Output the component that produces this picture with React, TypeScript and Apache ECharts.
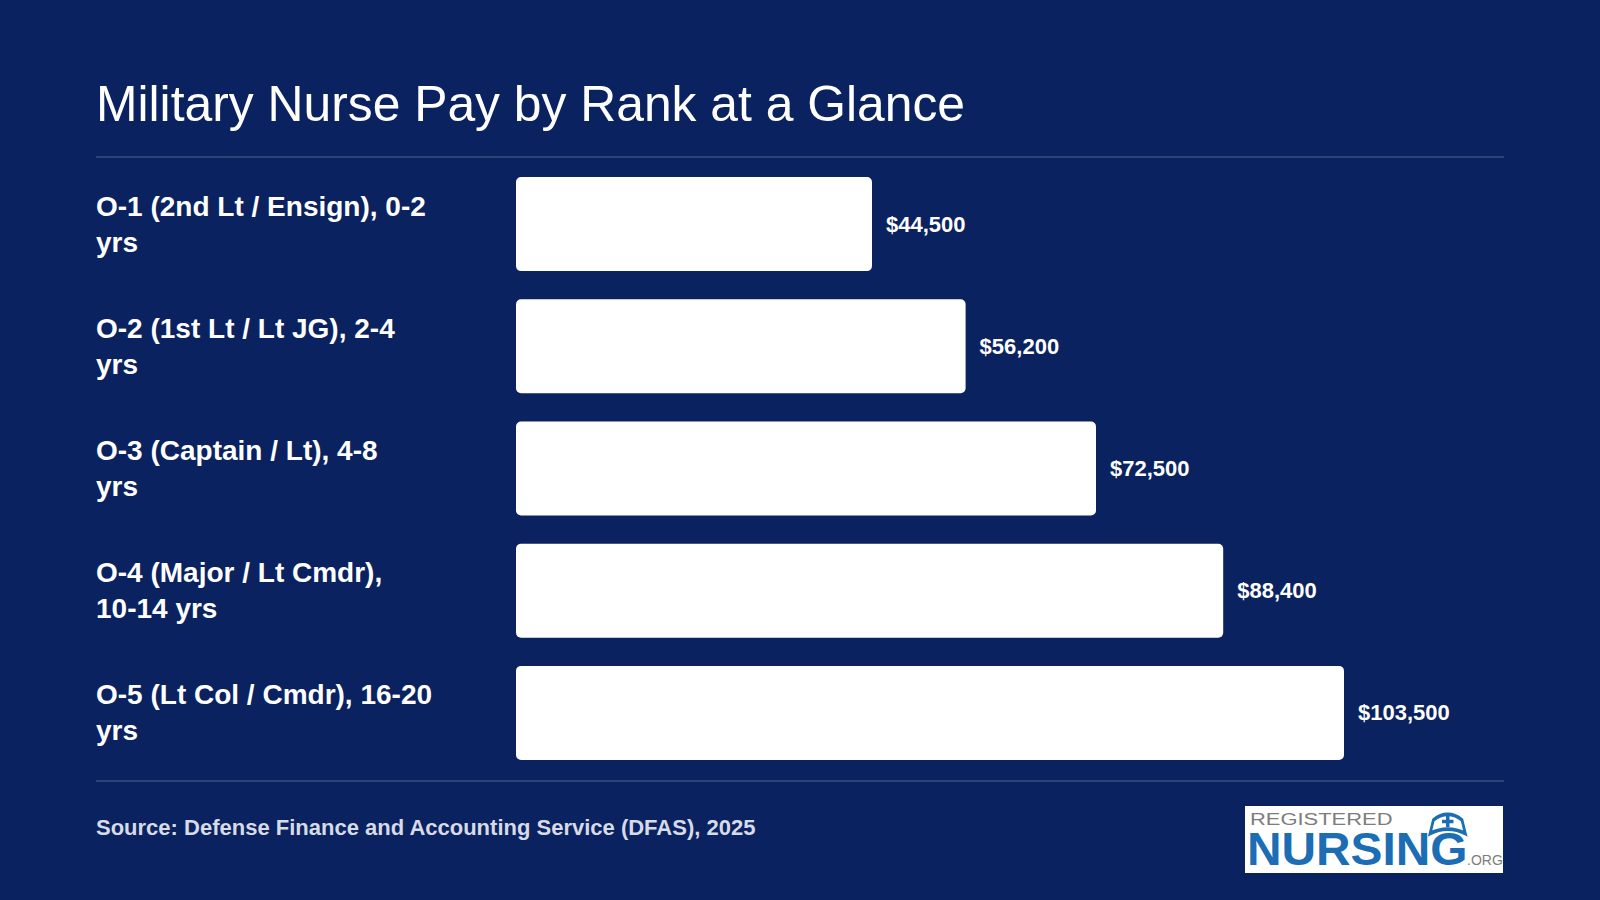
import React, { useEffect, useRef } from "react";
import * as echarts from "echarts";

const TITLE = "Military Nurse Pay by Rank at a Glance";
const SOURCE = "Source: Defense Finance and Accounting Service (DFAS), 2025";

const categories = [
  "O-1 (2nd Lt / Ensign), 0-2\nyrs",
  "O-2 (1st Lt / Lt JG), 2-4\nyrs",
  "O-3 (Captain / Lt), 4-8\nyrs",
  "O-4 (Major / Lt Cmdr),\n10-14 yrs",
  "O-5 (Lt Col / Cmdr), 16-20\nyrs",
];
const payValues = [44500, 56200, 72500, 88400, 103500];

const BG = "#0b2260";
const FONT = "'Liberation Sans', Arial, Helvetica, sans-serif";
const LOGO_BLUE = "#1b6db4";
const LOGO_GRAY = "#7d7d7d";

const CAP_PATH =
  "M1,13 L4,4 C12,-1 22,-1 30,4 L33,13 C23,9 11,9 1,13 Z";

export default function App() {
  const ref = useRef<HTMLDivElement>(null);

  useEffect(() => {
    if (!ref.current) return;
    try {
      echarts.graphic.registerShape(
        "nursecap",
        echarts.graphic.extendPath(CAP_PATH, {}) as any
      );
    } catch (e) {}
    const chart = echarts.init(ref.current, null, { renderer: "svg" });
    chart.setOption({
      animation: false,
      backgroundColor: BG,
      grid: { left: 516, top: 163, width: 988, height: 611, containLabel: false },
      xAxis: { type: "value", min: 0, max: 123500, show: false },
      yAxis: {
        type: "category",
        data: categories,
        inverse: true,
        axisLine: { show: false },
        axisTick: { show: false },
        splitLine: { show: false },
        axisLabel: {
          color: "#ffffff",
          fontFamily: FONT,
          fontWeight: "bold",
          fontSize: 28,
          lineHeight: 36,
          align: "left",
          margin: 420,
        },
      },
      series: [
        {
          type: "bar",
          data: payValues,
          barWidth: 94,
          itemStyle: { color: "#ffffff", borderRadius: 5 },
          label: {
            show: true,
            position: "right",
            distance: 14,
            color: "#ffffff",
            fontFamily: FONT,
            fontWeight: "bold",
            fontSize: 22,
            formatter: (p: any) => "$" + Number(p.value).toLocaleString("en-US"),
          },
        },
      ],
      graphic: [
        {
          type: "text",
          x: 96,
          y: 104,
          style: {
            text: TITLE,
            fill: "#ffffff",
            font: `49.8px ${FONT}`,
            verticalAlign: "middle",
          },
        },
        {
          type: "line",
          shape: { x1: 96, y1: 157, x2: 1504, y2: 157 },
          style: { stroke: "#3a4f86", lineWidth: 1.5 },
        },
        {
          type: "line",
          shape: { x1: 96, y1: 781, x2: 1504, y2: 781 },
          style: { stroke: "#3a4f86", lineWidth: 1.5 },
        },
        {
          type: "text",
          x: 96,
          y: 827,
          style: {
            text: SOURCE,
            fill: "#d6dbe7",
            font: `bold 22px ${FONT}`,
            verticalAlign: "middle",
          },
        },
        {
          type: "rect",
          shape: { x: 1245, y: 806, width: 258, height: 67 },
          style: { fill: "#ffffff" },
        },
        {
          type: "text",
          x: 1250,
          y: 819,
          scaleX: 1.29,
          style: {
            text: "REGISTERED",
            fill: LOGO_GRAY,
            font: `17px ${FONT}`,
            verticalAlign: "middle",
          },
        },
        {
          type: "text",
          x: 1247,
          y: 849,
          scaleX: 1.04,
          style: {
            text: "NURSING",
            fill: LOGO_BLUE,
            font: `bold 46px ${FONT}`,
            verticalAlign: "middle",
          },
        },
        {
          type: "text",
          x: 1467,
          y: 860,
          style: {
            text: ".ORG",
            fill: LOGO_GRAY,
            font: `14px ${FONT}`,
            verticalAlign: "middle",
          },
        },
        {
          type: "nursecap",
          x: 1429,
          y: 814,
          scaleX: 1.1,
          scaleY: 1.5,
          style: { fill: "#ffffff", stroke: LOGO_BLUE, lineWidth: 2.5 },
        },
        {
          type: "rect",
          shape: { x: 1446, y: 816, width: 3.5, height: 11 },
          style: { fill: LOGO_BLUE },
        },
        {
          type: "rect",
          shape: { x: 1442, y: 819.75, width: 11.5, height: 3.5 },
          style: { fill: LOGO_BLUE },
        },
      ],
    });
    return () => chart.dispose();
  }, []);

  return (
    <div
      ref={ref}
      style={{ position: "fixed", left: 0, top: 0, width: 1600, height: 900 }}
    />
  );
}
